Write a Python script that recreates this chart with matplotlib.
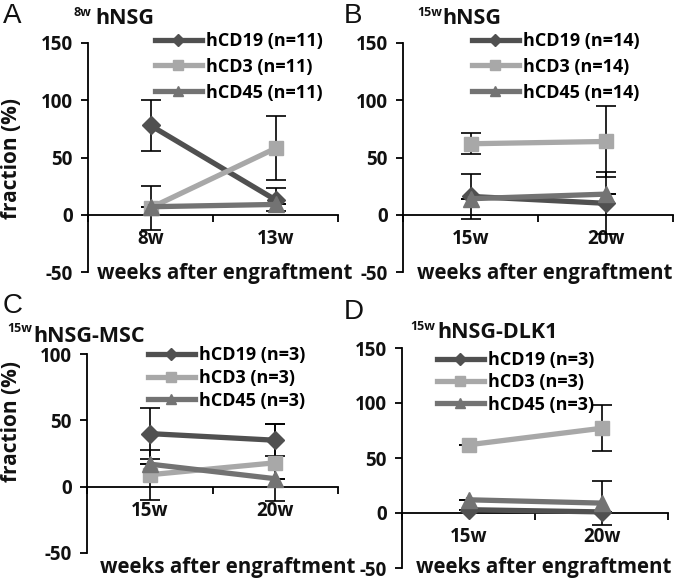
import matplotlib.pyplot as plt
import numpy as np

plt.rcParams['font.family'] = ['Open Sans', 'DejaVu Sans']
plt.rcParams['font.weight'] = 'bold'
plt.rcParams['axes.unicode_minus'] = False

W, H = 678, 581

# --- data ---
# A: 8w hNSG
a_weeks = ['8w', '13w']
a_cd19 = [78, 13]
a_cd19_err = [22, 10]
a_cd3 = [6, 58]
a_cd3_err = [19, 28]
a_cd45 = [7, 9]
a_cd45_err = [0, 0]
a_n = 11

# B: 15w hNSG
b_weeks = ['15w', '20w']
b_cd19 = [16, 10]
b_cd19_err = [20, 27]
b_cd3 = [62, 64]
b_cd3_err = [9, 31]
b_cd45 = [14, 18]
b_cd45_err = [0, 0]
b_n = 14

# C: 15w hNSG-MSC
c_weeks = ['15w', '20w']
c_cd19 = [40, 35]
c_cd19_err = [19, 12]
c_cd3 = [9, 18]
c_cd3_err = [19, 29]
c_cd45 = [17, 6]
c_cd45_err = [0, 0]
c_n = 3

# D: 15w hNSG-DLK1
d_weeks = ['15w', '20w']
d_cd19 = [3, 1]
d_cd19_err = [0, 0]
d_cd3 = [62, 77]
d_cd3_err = [0, 21]
d_cd45 = [12, 9]
d_cd45_err = [0, 20]
d_n = 3

c19, c3, c45 = '#505050', '#a8a8a8', '#737373'
txt = '#111111'

fig = plt.figure(figsize=(W / 100, H / 100), dpi=100)


def px_axes(l, t, r, b):
    return fig.add_axes([l / W, 1 - b / H, (r - l) / W, (b - t) / H])


def draw_panel(ax, weeks, series, ylim, yticks, n, leg_xy, leg_space):
    x = np.arange(len(weeks)) + 0.5
    for name, vals, errs, color, marker, ms in series:
        ax.errorbar(x, vals, yerr=errs, fmt='none', ecolor='black',
                    elinewidth=1.2, capsize=7, capthick=1.2, zorder=2)
        ax.plot(x, vals, color=color, lw=3.8, marker=marker, ms=ms,
                label=f'{name} (n={n})', zorder=3)
    ax.set_xlim(0, len(weeks))
    ax.set_ylim(*ylim)
    ax.set_yticks(yticks)
    ax.spines['bottom'].set_position(('data', 0))
    ax.spines[['top', 'right']].set_visible(False)
    for s in ('left', 'bottom'):
        ax.spines[s].set_linewidth(1.3)
        ax.spines[s].set_color('black')
    ax.set_xticks(range(len(weeks) + 1))
    ax.set_xticklabels([])
    ax.set_xticks(x, minor=True)
    ax.set_xticklabels(weeks, minor=True)
    ax.tick_params(axis='x', which='minor', length=0, pad=10, labelsize=13.5,
                   labelcolor=txt)
    ax.tick_params(axis='x', which='major', length=5, width=1.3)
    ax.tick_params(axis='y', length=5, width=1.3, labelsize=13.5, labelcolor=txt, pad=6)
    ax.patch.set_alpha(0)
    ax.legend(loc='upper left', bbox_to_anchor=(leg_xy[0] / W, 1 - leg_xy[1] / H),
              bbox_transform=fig.transFigure, frameon=False, handlelength=2.6,
              handletextpad=0.2, labelspacing=leg_space, borderpad=0,
              borderaxespad=0, markerscale=0.7,
              prop={'weight': 'bold', 'size': 13})


def title(letter, lx, ly, sup, sx, sy, main, mx, my):
    fig.text(lx / W, 1 - ly / H, letter, fontsize=20, va='center', ha='left',
             family='Liberation Sans', weight='normal', color=txt)
    fig.text(sx / W, 1 - sy / H, sup, fontsize=9, weight='bold', va='center',
             ha='left', color=txt)
    fig.text(mx / W, 1 - my / H, main, fontsize=15.5, weight='bold', va='center',
             ha='left', color=txt)


def series(cd19, e19, cd3, e3, cd45, e45):
    return [('hCD19', cd19, e19, c19, 'D', 9),
            ('hCD3', cd3, e3, c3, 's', 10),
            ('hCD45', cd45, e45, c45, '^', 11)]


ax_a = px_axes(88, 43, 338, 272)
draw_panel(ax_a, a_weeks, series(a_cd19, a_cd19_err, a_cd3, a_cd3_err, a_cd45, a_cd45_err),
           (-50, 150), [-50, 0, 50, 100, 150], a_n, (155, 32), 0.43)
ax_b = px_axes(403, 43, 673, 272)
draw_panel(ax_b, b_weeks, series(b_cd19, b_cd19_err, b_cd3, b_cd3_err, b_cd45, b_cd45_err),
           (-50, 150), [-50, 0, 50, 100, 150], b_n, (472, 32), 0.43)
ax_c = px_axes(87, 354, 338, 553)
draw_panel(ax_c, c_weeks, series(c_cd19, c_cd19_err, c_cd3, c_cd3_err, c_cd45, c_cd45_err),
           (-50, 100), [-50, 0, 50, 100], c_n, (148, 346), 0.27)
ax_d = px_axes(402, 348, 668, 568)
draw_panel(ax_d, d_weeks, series(d_cd19, d_cd19_err, d_cd3, d_cd3_err, d_cd45, d_cd45_err),
           (-50, 150), [-50, 0, 50, 100, 150], d_n, (437, 351), 0.24)

title('A', 3, 16, '8w', 74, 13, 'hNSG', 95, 18)
title('B', 344, 16, '15w', 417, 13, 'hNSG', 442, 18)
title('C', 3, 306, '15w', 7, 329, 'hNSG-MSC', 33, 337)
title('D', 344, 312, '15w', 410, 326, 'hNSG-DLK1', 437, 333)

for xx, yy in [(97, 273), (417, 273), (100, 567), (416, 568)]:
    fig.text(xx / W, 1 - yy / H, 'weeks after engraftment', fontsize=14.8,
             weight='bold', va='center', ha='left', color=txt)

for yy in [158, 421]:
    fig.text(12 / W, 1 - yy / H, 'fraction (%)', fontsize=15, weight='bold',
             rotation=90, va='center', ha='center', color=txt)

fig.savefig('out.png', dpi=100)
